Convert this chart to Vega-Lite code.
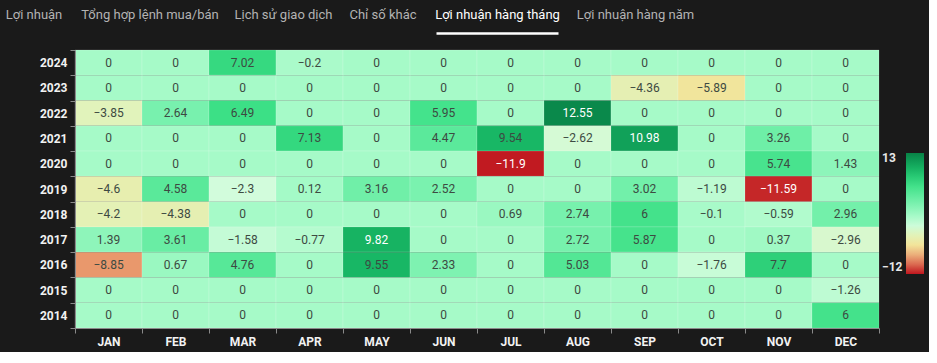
{
  "$schema": "https://vega.github.io/schema/vega-lite/v6.json",
  "background": "#1a1a1a",
  "padding": {"left": 5, "top": 8, "right": 5, "bottom": 5},
  "config": {
    "font": "Roboto",
    "view": {"stroke": null},
    "axisTop": {"domain": false, "ticks": false, "labels": false, "grid": false, "titleColor": "#b3b3b3", "titleFontWeight": "normal", "titleFontSize": 13, "titlePadding": 12, "titleFont": "Roboto"}
  },
  "spacing": 10,
  "vconcat": [
    {
      "hconcat": [
        {"width": 57, "height": 1, "data": {"values": [{"v": 0}]}, "mark": {"type": "rule", "opacity": 0}, "encoding": {"x": {"field": "v", "type": "quantitative", "axis": {"orient": "top", "title": "Lợi nhuận"}}}},
        {"width": 135, "height": 1, "data": {"values": [{"v": 0}]}, "mark": {"type": "rule", "opacity": 0}, "encoding": {"x": {"field": "v", "type": "quantitative", "axis": {"orient": "top", "title": "Tổng hợp lệnh mua/bán"}}}},
        {"width": 92, "height": 1, "data": {"values": [{"v": 0}]}, "mark": {"type": "rule", "opacity": 0}, "encoding": {"x": {"field": "v", "type": "quantitative", "axis": {"orient": "top", "title": "Lịch sử giao dịch"}}}},
        {"width": 67, "height": 1, "data": {"values": [{"v": 0}]}, "mark": {"type": "rule", "opacity": 0}, "encoding": {"x": {"field": "v", "type": "quantitative", "axis": {"orient": "top", "title": "Chỉ số khác"}}}},
        {"width": 122, "height": 1, "data": {"values": [{"v": 0}]}, "mark": {"type": "rule", "opacity": 0}, "encoding": {"x": {"field": "v", "type": "quantitative", "axis": {"orient": "top", "title": "Lợi nhuận hàng tháng", "titleColor": "#ffffff", "domain": true, "domainColor": "#ffffff", "domainWidth": 2.5}}}},
        {"width": 114, "height": 1, "data": {"values": [{"v": 0}]}, "mark": {"type": "rule", "opacity": 0}, "encoding": {"x": {"field": "v", "type": "quantitative", "axis": {"orient": "top", "title": "Lợi nhuận hàng năm"}}}}
      ],
      "spacing": 20,
      "bounds": "flush"
    },
    {
      "hconcat": [
        {"width": 70, "height": 278, "data": {"values": [{"v": 0}]}, "mark": {"type": "point", "opacity": 0}, "encoding": {}},
        {
          "width": 804,
          "height": 278,
          "data": {"values": [
            {"y":"2024","m":"JAN","v":0},{"y":"2024","m":"FEB","v":0},{"y":"2024","m":"MAR","v":7.02},{"y":"2024","m":"APR","v":-0.2},{"y":"2024","m":"MAY","v":0},{"y":"2024","m":"JUN","v":0},{"y":"2024","m":"JUL","v":0},{"y":"2024","m":"AUG","v":0},{"y":"2024","m":"SEP","v":0},{"y":"2024","m":"OCT","v":0},{"y":"2024","m":"NOV","v":0},{"y":"2024","m":"DEC","v":0},
            {"y":"2023","m":"JAN","v":0},{"y":"2023","m":"FEB","v":0},{"y":"2023","m":"MAR","v":0},{"y":"2023","m":"APR","v":0},{"y":"2023","m":"MAY","v":0},{"y":"2023","m":"JUN","v":0},{"y":"2023","m":"JUL","v":0},{"y":"2023","m":"AUG","v":0},{"y":"2023","m":"SEP","v":-4.36},{"y":"2023","m":"OCT","v":-5.89},{"y":"2023","m":"NOV","v":0},{"y":"2023","m":"DEC","v":0},
            {"y":"2022","m":"JAN","v":-3.85},{"y":"2022","m":"FEB","v":2.64},{"y":"2022","m":"MAR","v":6.49},{"y":"2022","m":"APR","v":0},{"y":"2022","m":"MAY","v":0},{"y":"2022","m":"JUN","v":5.95},{"y":"2022","m":"JUL","v":0},{"y":"2022","m":"AUG","v":12.55},{"y":"2022","m":"SEP","v":0},{"y":"2022","m":"OCT","v":0},{"y":"2022","m":"NOV","v":0},{"y":"2022","m":"DEC","v":0},
            {"y":"2021","m":"JAN","v":0},{"y":"2021","m":"FEB","v":0},{"y":"2021","m":"MAR","v":0},{"y":"2021","m":"APR","v":7.13},{"y":"2021","m":"MAY","v":0},{"y":"2021","m":"JUN","v":4.47},{"y":"2021","m":"JUL","v":9.54},{"y":"2021","m":"AUG","v":-2.62},{"y":"2021","m":"SEP","v":10.98},{"y":"2021","m":"OCT","v":0},{"y":"2021","m":"NOV","v":3.26},{"y":"2021","m":"DEC","v":0},
            {"y":"2020","m":"JAN","v":0},{"y":"2020","m":"FEB","v":0},{"y":"2020","m":"MAR","v":0},{"y":"2020","m":"APR","v":0},{"y":"2020","m":"MAY","v":0},{"y":"2020","m":"JUN","v":0},{"y":"2020","m":"JUL","v":-11.9},{"y":"2020","m":"AUG","v":0},{"y":"2020","m":"SEP","v":0},{"y":"2020","m":"OCT","v":0},{"y":"2020","m":"NOV","v":5.74},{"y":"2020","m":"DEC","v":1.43},
            {"y":"2019","m":"JAN","v":-4.6},{"y":"2019","m":"FEB","v":4.58},{"y":"2019","m":"MAR","v":-2.3},{"y":"2019","m":"APR","v":0.12},{"y":"2019","m":"MAY","v":3.16},{"y":"2019","m":"JUN","v":2.52},{"y":"2019","m":"JUL","v":0},{"y":"2019","m":"AUG","v":0},{"y":"2019","m":"SEP","v":3.02},{"y":"2019","m":"OCT","v":-1.19},{"y":"2019","m":"NOV","v":-11.59},{"y":"2019","m":"DEC","v":0},
            {"y":"2018","m":"JAN","v":-4.2},{"y":"2018","m":"FEB","v":-4.38},{"y":"2018","m":"MAR","v":0},{"y":"2018","m":"APR","v":0},{"y":"2018","m":"MAY","v":0},{"y":"2018","m":"JUN","v":0},{"y":"2018","m":"JUL","v":0.69},{"y":"2018","m":"AUG","v":2.74},{"y":"2018","m":"SEP","v":6},{"y":"2018","m":"OCT","v":-0.1},{"y":"2018","m":"NOV","v":-0.59},{"y":"2018","m":"DEC","v":2.96},
            {"y":"2017","m":"JAN","v":1.39},{"y":"2017","m":"FEB","v":3.61},{"y":"2017","m":"MAR","v":-1.58},{"y":"2017","m":"APR","v":-0.77},{"y":"2017","m":"MAY","v":9.82},{"y":"2017","m":"JUN","v":0},{"y":"2017","m":"JUL","v":0},{"y":"2017","m":"AUG","v":2.72},{"y":"2017","m":"SEP","v":5.87},{"y":"2017","m":"OCT","v":0},{"y":"2017","m":"NOV","v":0.37},{"y":"2017","m":"DEC","v":-2.96},
            {"y":"2016","m":"JAN","v":-8.85},{"y":"2016","m":"FEB","v":0.67},{"y":"2016","m":"MAR","v":4.76},{"y":"2016","m":"APR","v":0},{"y":"2016","m":"MAY","v":9.55},{"y":"2016","m":"JUN","v":2.33},{"y":"2016","m":"JUL","v":0},{"y":"2016","m":"AUG","v":5.03},{"y":"2016","m":"SEP","v":0},{"y":"2016","m":"OCT","v":-1.76},{"y":"2016","m":"NOV","v":7.7},{"y":"2016","m":"DEC","v":0},
            {"y":"2015","m":"JAN","v":0},{"y":"2015","m":"FEB","v":0},{"y":"2015","m":"MAR","v":0},{"y":"2015","m":"APR","v":0},{"y":"2015","m":"MAY","v":0},{"y":"2015","m":"JUN","v":0},{"y":"2015","m":"JUL","v":0},{"y":"2015","m":"AUG","v":0},{"y":"2015","m":"SEP","v":0},{"y":"2015","m":"OCT","v":0},{"y":"2015","m":"NOV","v":0},{"y":"2015","m":"DEC","v":-1.26},
            {"y":"2014","m":"JAN","v":0},{"y":"2014","m":"FEB","v":0},{"y":"2014","m":"MAR","v":0},{"y":"2014","m":"APR","v":0},{"y":"2014","m":"MAY","v":0},{"y":"2014","m":"JUN","v":0},{"y":"2014","m":"JUL","v":0},{"y":"2014","m":"AUG","v":0},{"y":"2014","m":"SEP","v":0},{"y":"2014","m":"OCT","v":0},{"y":"2014","m":"NOV","v":0},{"y":"2014","m":"DEC","v":6}
          ]},
          "encoding": {
            "x": {"field": "m", "type": "ordinal", "sort": ["JAN","FEB","MAR","APR","MAY","JUN","JUL","AUG","SEP","OCT","NOV","DEC"], "title": null,
              "axis": {"labelAngle": 0, "labelColor": "#f2f2f2", "labelFontWeight": "bold", "labelFontSize": 12, "labelPadding": 3, "tickBand": "extent", "tickColor": "#8a8a8a", "tickSize": 5, "domainColor": "#8a8a8a"}},
            "y": {"field": "y", "type": "ordinal", "sort": "descending", "title": null,
              "axis": {"labelColor": "#f2f2f2", "labelFontWeight": "bold", "labelFontSize": 12, "labelPadding": 3, "tickBand": "extent", "tickColor": "#8a8a8a", "tickSize": 5, "domainColor": "#8a8a8a"}}
          },
          "layer": [
            {
              "mark": {"type": "rect", "stroke": "#ffffff", "strokeOpacity": 0.15, "strokeWidth": 1},
              "encoding": {
                "color": {"field": "v", "type": "quantitative",
                  "scale": {"domain": [-12, -9, -6, -4, -2.3, 0, 3, 6.5, 9.5, 12.5, 13], "range": ["#c0161e", "#e8946a", "#f2e49a", "#e2f2b8", "#d2fcdc", "#a6fac8", "#72f0aa", "#3ce086", "#18b865", "#0a8a4c", "#088246"], "interpolate": "rgb"},
                  "legend": {"orient": "none", "legendX": 901, "legendY": 120, "title": null, "values": [-12, 13], "direction": "vertical", "gradientLength": 121, "gradientThickness": 18, "labelColor": "#e8e8e8", "labelFontWeight": "bold", "labelFontSize": 12, "labelAlign": "right", "labelBaseline": "middle", "labelOffset": -42}}
              }
            },
            {
              "mark": {"type": "text", "fontSize": 12},
              "encoding": {
                "text": {"field": "v", "type": "quantitative"},
                "color": {"condition": {"test": "datum.v >= 9.7 || datum.v <= -11", "value": "#ffffff"}, "value": "#3d4a42"}
              }
            }
          ]
        }
      ],
      "spacing": 0,
      "bounds": "flush"
    }
  ]
}
